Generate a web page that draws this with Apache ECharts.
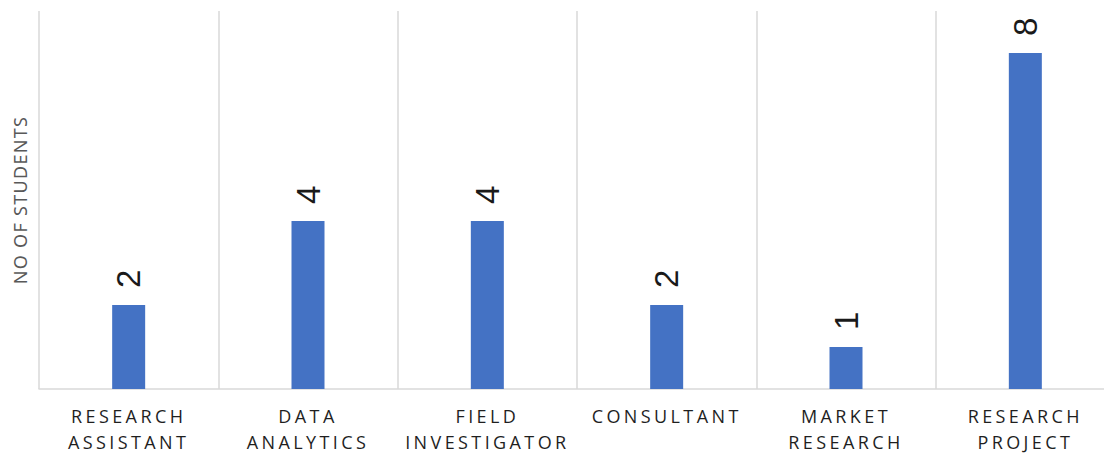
<!DOCTYPE html>
<html>
<head>
<meta charset="utf-8">
<script src="https://cdn.jsdelivr.net/npm/echarts@6/dist/echarts.min.js"></script>
<style>
  html, body { margin: 0; padding: 0; background: #fff; overflow: hidden; width: 1104px; height: 455px; }
  #chart { width: 1125px; height: 455px; }
  #chart text[style*="Open Sans"], #chart text[font-family*="Open Sans"] { letter-spacing: 3.4px; }
  #chart text[style*="Noto Sans"], #chart text[font-family*="Noto Sans"] { letter-spacing: 1.3px; }
</style>
</head>
<body>
<div id="chart"></div>
<script>
const categories = ['RESEARCH ASSISTANT', 'DATA ANALYTICS', 'FIELD INVESTIGATOR', 'CONSULTANT', 'MARKET RESEARCH', 'RESEARCH PROJECT'];
const students = [2, 4, 4, 2, 1, 8];
const yAxisTitle = 'NO OF STUDENTS';

const chart = echarts.init(document.getElementById('chart'), null, { renderer: 'svg' });
chart.setOption({
  animation: false,
  grid: { left: 39, right: 10, top: 11, bottom: 65.5, containLabel: false },
  xAxis: {
    type: 'category',
    data: categories,
    boundaryGap: true,
    axisLine: { show: true, lineStyle: { color: '#d9d9d9', width: 1.5 } },
    axisTick: { show: false },
    splitLine: { show: true, lineStyle: { color: '#d9d9d9', width: 1.5 } },
    axisLabel: {
      interval: 0,
      margin: 14,
      fontFamily: 'Open Sans',
      fontSize: 18,
      lineHeight: 26,
      color: '#1f1f1f',
      formatter: v => v.split(' ').join('\n')
    }
  },
  yAxis: {
    type: 'value',
    min: 0,
    max: 9,
    interval: 1,
    axisLine: { show: false },
    axisTick: { show: false },
    axisLabel: { show: false },
    splitLine: { show: false },
    name: yAxisTitle,
    nameLocation: 'middle',
    nameGap: 10,
    nameRotate: 90,
    nameTextStyle: { fontFamily: 'Noto Sans', fontSize: 18, color: '#595959' }
  },
  series: [{
    type: 'bar',
    data: students,
    barWidth: 33,
    itemStyle: { color: '#4472C4' },
    label: {
      show: true,
      position: 'top',
      rotate: 90,
      align: 'left',
      verticalAlign: 'middle',
      distance: 17,
      fontFamily: 'Liberation Sans',
      fontSize: 33,
      color: '#1a1a1a'
    }
  }]
});
</script>
</body>
</html>
